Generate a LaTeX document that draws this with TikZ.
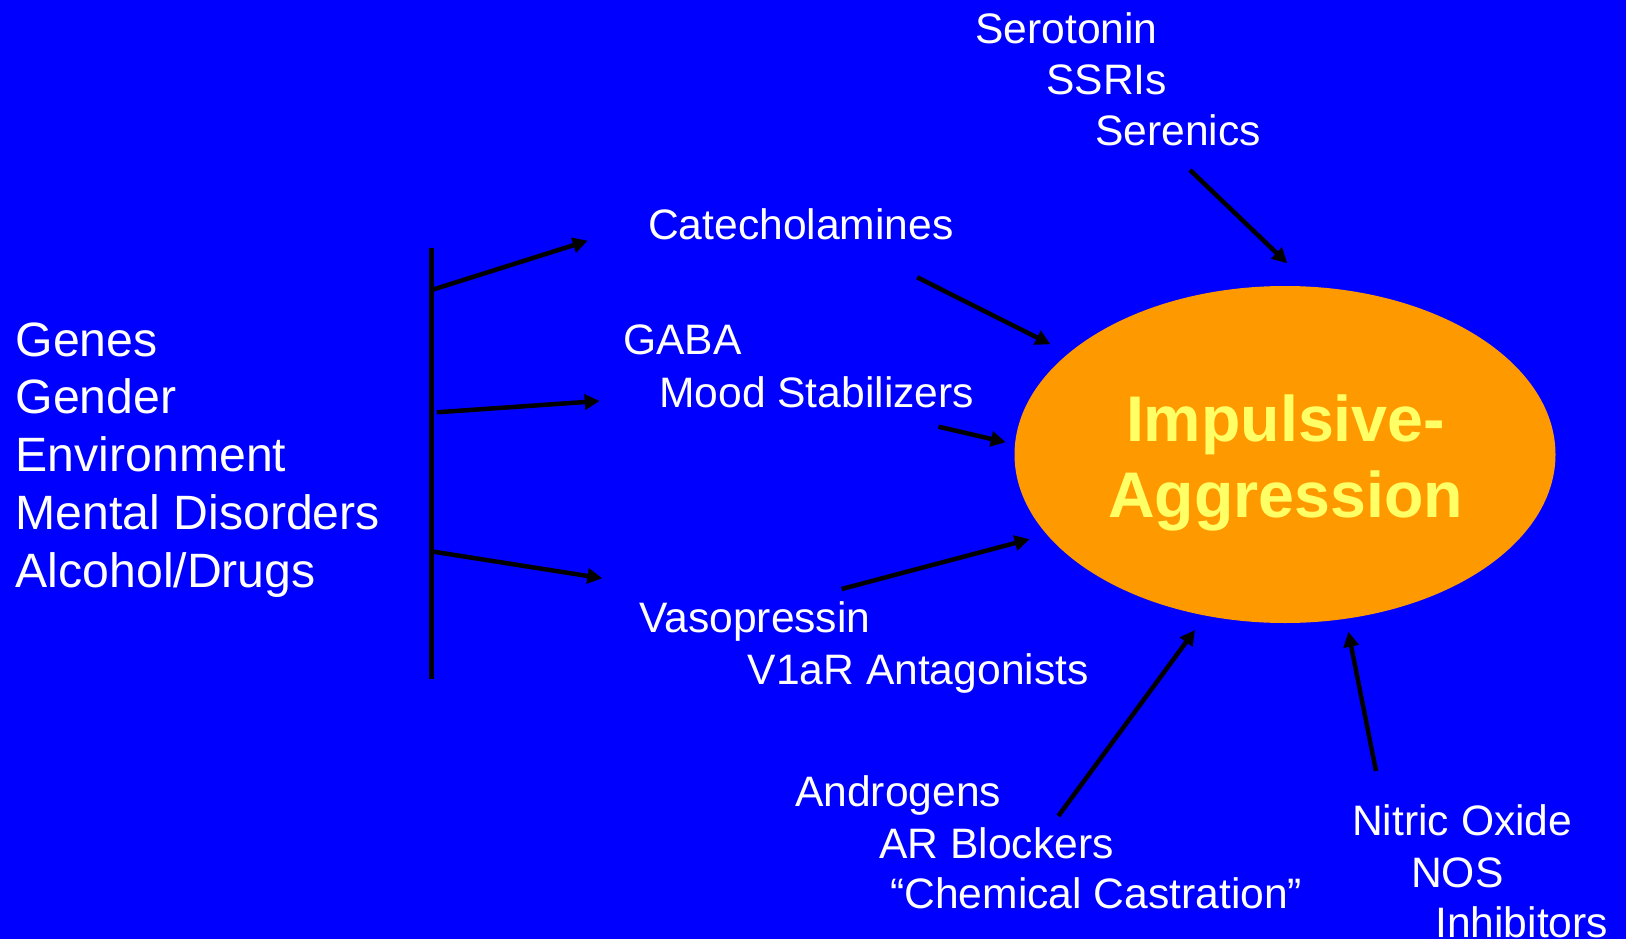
\documentclass[tikz,border=0pt]{standalone}
\usepackage{fontspec}
\setmainfont{Liberation Sans}
\usetikzlibrary{arrows.meta,shapes.geometric}
\definecolor{slideblue}{HTML}{0000FF}
\definecolor{blobfill}{HTML}{FF9900}
\definecolor{titleyellow}{HTML}{FFFF66}
\begin{document}
\begin{tikzpicture}[x=1pt,y=-1pt,
  factor/.style={anchor=base west,inner sep=0pt,text=white,font=\fontsize{48.2}{57}\selectfont},
  agent/.style={anchor=base west,inner sep=0pt,text=white,font=\fontsize{42.6}{50}\selectfont},
  blob/.style={ellipse,fill=blobfill,draw=none,minimum width=541pt,minimum height=337pt,inner sep=0pt},
  title/.style={inner sep=0pt,align=center,text=titleyellow,font=\fontsize{64.5}{76}\selectfont\bfseries},
  link/.style={line width=4.5pt,draw=black,-{Triangle[length=15pt,width=15pt]}},
  bar/.style={line width=4.5pt,draw=black}]
% background
\fill[slideblue] (0,0) rectangle (1626,939);
\useasboundingbox (0,0) rectangle (1626,939);

% central ellipse and its title
\node[blob] (agg) at (1285,454.5) {};
\node[title] (aggtxt) at (1285.5,462.8) {Impulsive-\\Aggression};

% contributing factors
\node[factor] (genes)  at (15.5,356)   {Genes};
\node[factor] (gender) at (15.5,413.8) {Gender};
\node[factor] (env)    at (15.5,471.6) {Environment};
\node[factor] (mental) at (15.5,529.4) {Mental Disorders};
\node[factor] (drugs)  at (15.5,587.2) {Alcohol/Drugs};

% neurochemical systems and their drugs
\node[agent] (sero)  at (975,43.7)   {Serotonin};
\node[agent] (ssri)  at (1046,94.8)  {SSRIs};
\node[agent] (seren) at (1095,145.8) {Serenics};
\node[agent] (cate)  at (648,239)    {Catecholamines};
\node[agent] (gaba)  at (623,354)    {GABA};
\node[agent] (mood)  at (659,407.3)  {Mood Stabilizers};
\node[agent] (vaso)  at (639,632)    {Vasopressin};
\node[agent] (v1ar)  at (747.5,684.5) {V1aR Antagonists};
\node[agent] (andro) at (795,806)    {Androgens};
\node[agent] (arb)   at (879,858.5)  {AR Blockers};
\node[agent] (chem)  at (890,908)    {“Chemical Castration”};
\node[agent] (nitric) at (1352,835.3) {Nitric Oxide};
\node[agent] (nos)   at (1411,887.8) {NOS};
\node[agent] (inhib) at (1435,937.3) {Inhibitors};

% connector end points
\coordinate (bartop) at (431.6,248);
\coordinate (barbot) at (431.6,679);
\coordinate (brA) at (431.6,290);
\coordinate (brB) at (436.8,412.3);
\coordinate (brC) at (433.6,551.7);
\coordinate (tipA) at (587.8,240.7);
\coordinate (tipB) at (599.7,401);
\coordinate (tipC) at (602.4,578.3);
\coordinate (serS) at (1190,170);
\coordinate (serE) at (1287.3,263.3);
\coordinate (catS) at (917.2,277.3);
\coordinate (catE) at (1050.5,344.3);
\coordinate (mooS) at (938.5,426.7);
\coordinate (mooE) at (1005.8,442.3);
\coordinate (vasS) at (841.7,589);
\coordinate (vasE) at (1029.7,539.2);
\coordinate (andS) at (1058.3,816);
\coordinate (andE) at (1195,630);
\coordinate (nosS) at (1376,771);
\coordinate (nosE) at (1348.3,631.7);

% branching bar from the factors
\draw[bar] (bartop) -- (barbot);
\draw[link] (brA) -- (tipA);
\draw[link] (brB) -- (tipB);
\draw[link] (brC) -- (tipC);

% systems acting on the ellipse
\draw[link] (serS) -- (serE);
\draw[link] (catS) -- (catE);
\draw[link] (mooS) -- (mooE);
\draw[link] (vasS) -- (vasE);
\draw[link] (andS) -- (andE);
\draw[link] (nosS) -- (nosE);
\end{tikzpicture}
\end{document}
